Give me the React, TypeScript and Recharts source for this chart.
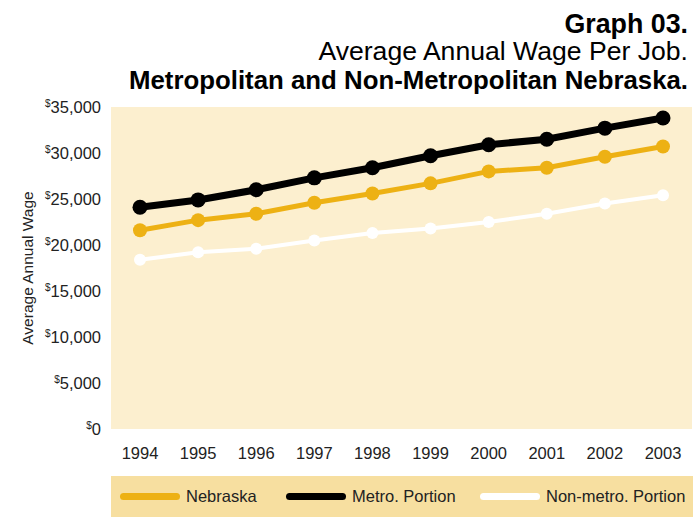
import React from "react";
import { LineChart, Line, XAxis, YAxis, CartesianGrid } from "recharts";

const years = ["1994", "1995", "1996", "1997", "1998", "1999", "2000", "2001", "2002", "2003"];
const nebraska = [21600, 22700, 23400, 24600, 25600, 26700, 28000, 28400, 29600, 30700];
const metro = [24100, 24900, 26000, 27300, 28400, 29700, 30900, 31500, 32700, 33800];
const nonMetro = [18400, 19200, 19600, 20500, 21300, 21800, 22500, 23400, 24500, 25400];
const yTicks = [0, 5000, 10000, 15000, 20000, 25000, 30000, 35000];

const data = years.map((y, i) => ({
  year: y,
  nebraska: nebraska[i],
  metro: metro[i],
  nonMetro: nonMetro[i],
}));

const GOLD = "#EDB114";
const BASE_FONT = "'Liberation Sans', Arial, sans-serif";

const YTick = (props: any) => {
  const { x, y, payload } = props;
  const v = Number(payload.value).toLocaleString("en-US");
  return (
    <text x={x} y={y} textAnchor="end" fontFamily={BASE_FONT} fill="#222">
      <tspan fontSize={10} dy={-0.5}>$</tspan>
      <tspan fontSize={16.5} dy={6.5}>{v}</tspan>
    </text>
  );
};

const legendItems = [
  { label: "Nebraska", color: GOLD, left: 120 },
  { label: "Metro. Portion", color: "#000", left: 286 },
  { label: "Non-metro. Portion", color: "#fff", left: 480 },
];

export default function App() {
  return (
    <div style={{ position: "absolute", left: 0, top: 0, width: 693, height: 517, background: "#fff", overflow: "hidden" }}>
      <div style={{ position: "absolute", left: 0, top: 0 }}>
        <LineChart width={693} height={476} data={data} margin={{ top: 107, right: 1, bottom: 0, left: 0 }}>
          <CartesianGrid horizontal={false} vertical={false} fill="#FCEFCF" />
          <XAxis
            dataKey="year"
            padding={{ left: 29, right: 29 }}
            axisLine={false}
            tickLine={false}
            height={47}
            tickMargin={12}
            tick={{ fontFamily: BASE_FONT, fontSize: 16.5, fill: "#222" }}
          />
          <YAxis
            domain={[0, 35000]}
            ticks={yTicks}
            width={111}
            axisLine={false}
            tickLine={false}
            tick={<YTick />}
            tickMargin={4}
            label={{
              value: "Average Annual Wage",
              angle: -90,
              position: "insideLeft",
              offset: 27,
              style: { fontFamily: BASE_FONT, fontSize: 15.5, fill: "#222", textAnchor: "middle" },
            }}
          />
          <Line dataKey="nonMetro" stroke="#fff" strokeWidth={4} dot={{ r: 6, fill: "#fff", stroke: "#fff", strokeWidth: 0 }} isAnimationActive={false} />
          <Line dataKey="nebraska" stroke={GOLD} strokeWidth={5} dot={{ r: 7, fill: GOLD, stroke: GOLD, strokeWidth: 0 }} isAnimationActive={false} />
          <Line dataKey="metro" stroke="#000" strokeWidth={7} dot={{ r: 7.5, fill: "#000", stroke: "#000", strokeWidth: 0 }} isAnimationActive={false} />
        </LineChart>
      </div>
      <svg width={693} height={100} style={{ position: "absolute", left: 0, top: 0, zIndex: 2, pointerEvents: "none" }}>
        <text x={688} y={33} textAnchor="end" fontFamily={BASE_FONT} fontWeight="bold" fontSize={26.8} fill="#000">
          Graph 03.
        </text>
        <text x={688} y={60} textAnchor="end" fontFamily={BASE_FONT} fontSize={26.6} fill="#000">
          Average Annual Wage Per Job.
        </text>
        <text x={688} y={89} textAnchor="end" fontFamily={BASE_FONT} fontWeight="bold" fontSize={25.8} fill="#000">
          Metropolitan and Non-Metropolitan Nebraska.
        </text>
      </svg>
      <div style={{ position: "absolute", left: 111, top: 476, width: 582, height: 41, background: "#F7DFA0" }}>
        {legendItems.map((it) => (
          <div key={it.label} style={{ position: "absolute", left: it.left - 111, top: 0, height: 41, display: "flex", alignItems: "center" }}>
            <div style={{ width: 60, height: 7, borderRadius: 4, background: it.color }} />
            <span style={{ marginLeft: 6, fontFamily: BASE_FONT, fontSize: 16.5, color: "#222" }}>{it.label}</span>
          </div>
        ))}
      </div>
    </div>
  );
}
